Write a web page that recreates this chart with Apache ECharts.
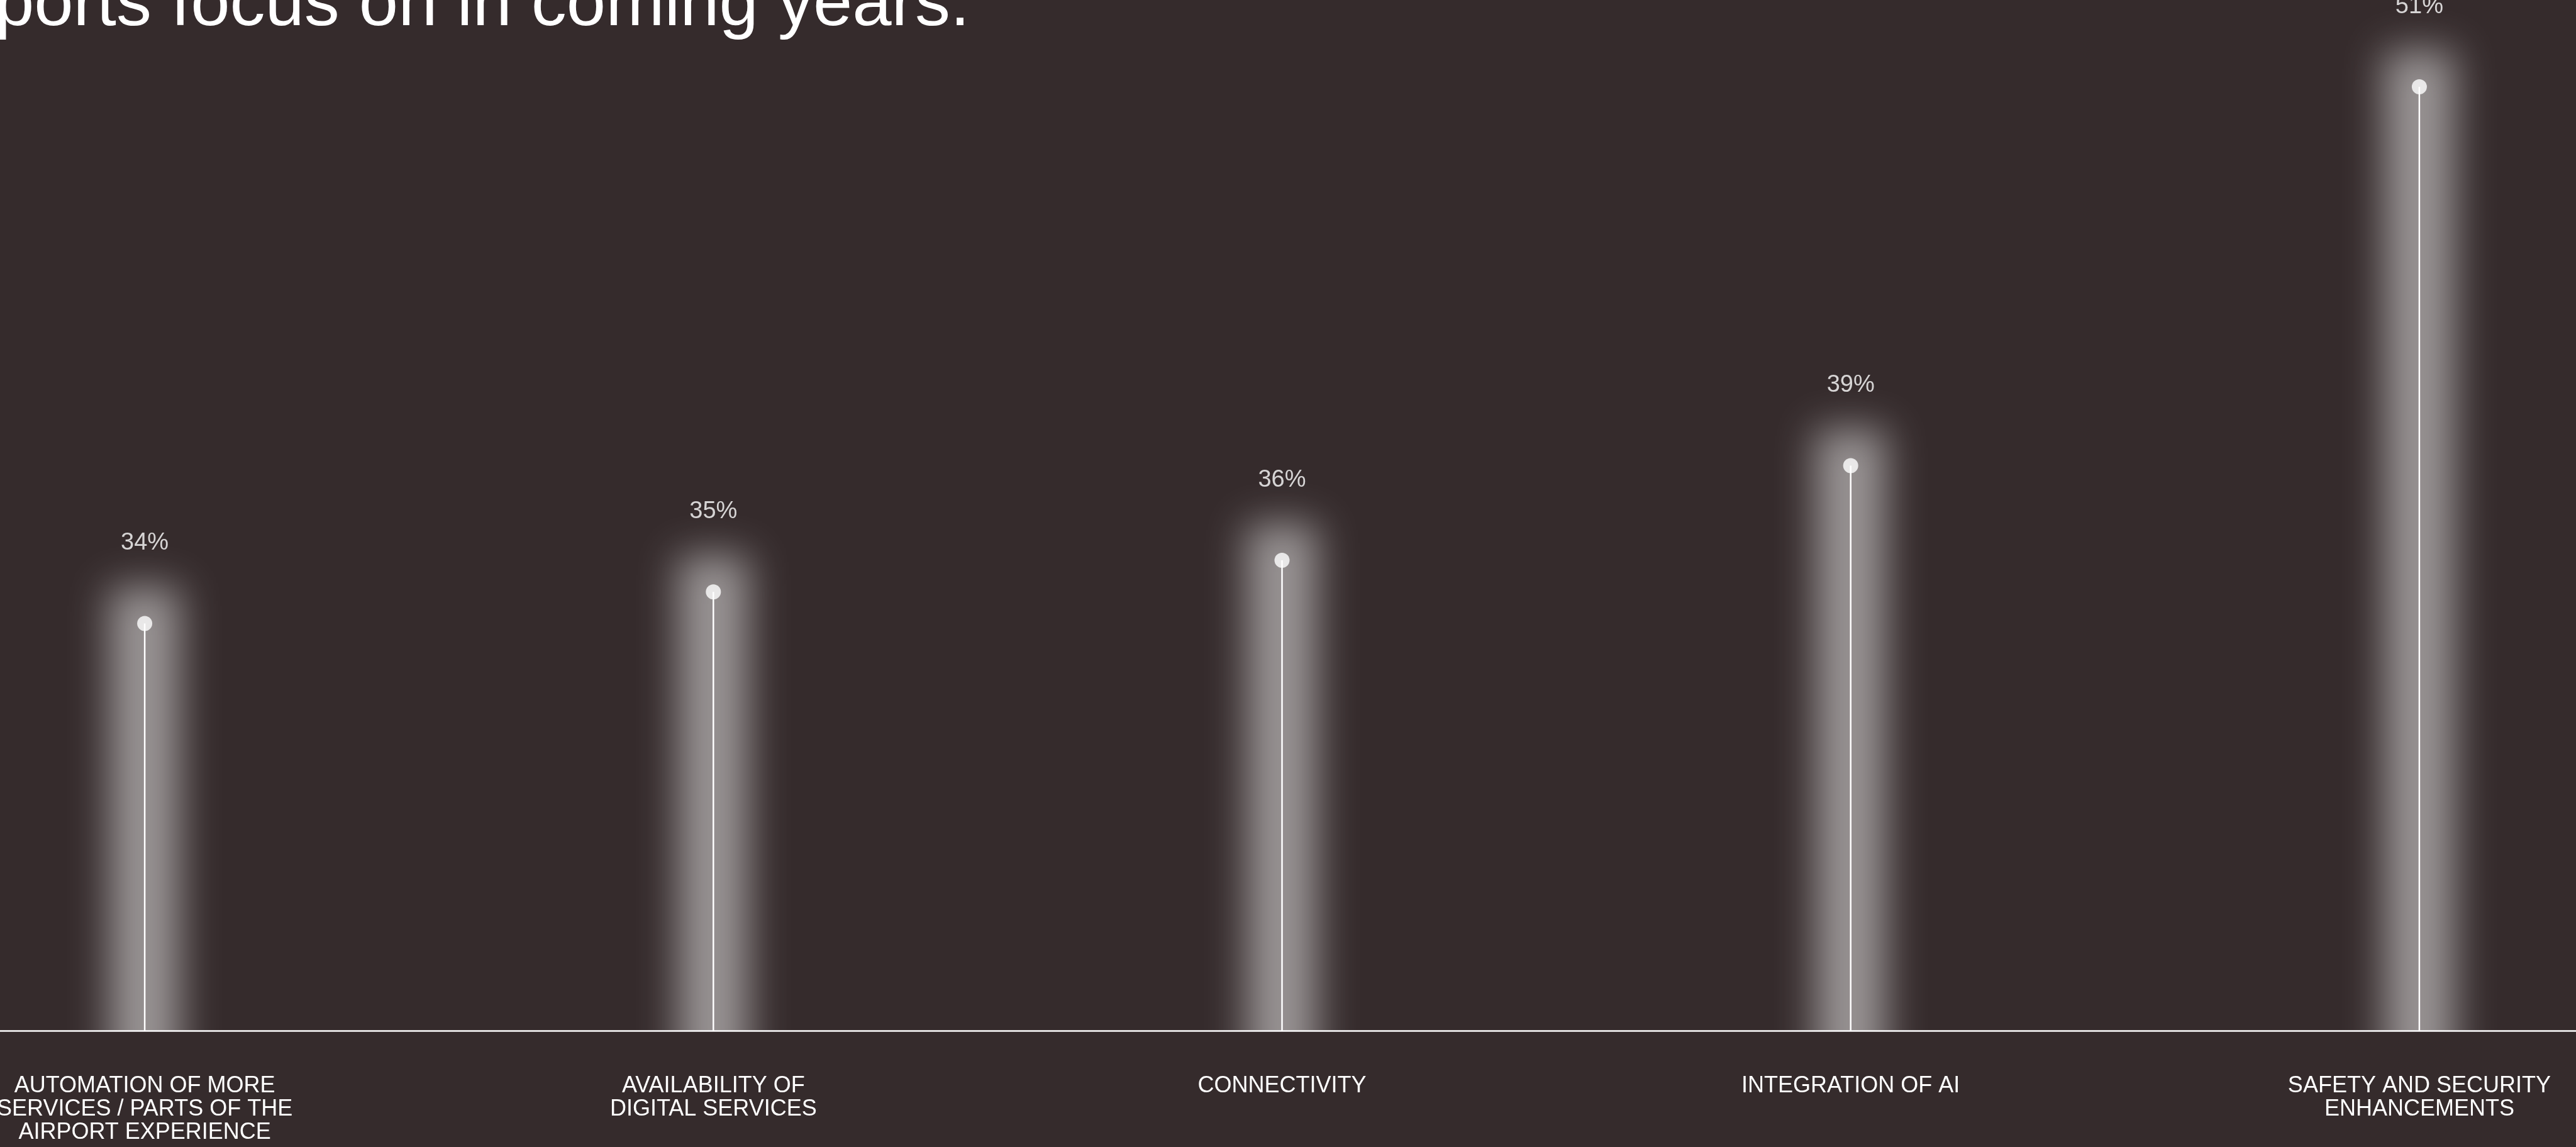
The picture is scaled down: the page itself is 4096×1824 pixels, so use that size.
<!DOCTYPE html>
<html>
<head>
<meta charset="utf-8">
<script src="https://cdn.jsdelivr.net/npm/echarts@6/dist/echarts.min.js"></script>
<style>
    html, body { margin: 0; padding: 0; background: #352b2c; }
    #chart { width: 4096px; height: 1824px; }
</style>
</head>
<body>
<div id="chart"></div>
<script>
const categories = [
    'AUTOMATION OF MORE\nSERVICES / PARTS OF THE\nAIRPORT EXPERIENCE',
    'AVAILABILITY OF\nDIGITAL SERVICES',
    'CONNECTIVITY',
    'INTEGRATION OF AI',
    'SAFETY AND SECURITY\nENHANCEMENTS'
];
const shares = [34, 35, 36, 39, 51];

const font = 'Liberation Sans';
const glowWidth = 112;
const glowTop = 58;
const shift = 6000; // shape drawn off screen, only its blurred shadow lands on the stem

let myChart = echarts.init(document.getElementById('chart'));

let option = {
    backgroundColor: '#352b2c',
    animation: false,
    textStyle: { fontFamily: font },
    grid: {
        left: -222,
        right: -203,
        top: 0,
        bottom: 185,
        outerBoundsMode: 'none'
    },
    graphic: [{
        type: 'text',
        x: 1542,
        y: 9,
        silent: true,
        style: {
            text: 'airports focus on in coming years.',
            fill: '#fff',
            font: '112px "Liberation Sans"',
            textAlign: 'right',
            verticalAlign: 'middle'
        }
    }],
    xAxis: {
        type: 'category',
        boundaryGap: true,
        data: categories,
        axisLine: {
            lineStyle: { color: '#fff', width: 2.7 }
        },
        axisTick: { show: false },
        axisLabel: {
            interval: 0,
            color: '#fff',
            fontSize: 36,
            lineHeight: 37,
            margin: 70,
            align: 'center'
        },
        splitLine: { show: false }
    },
    yAxis: {
        type: 'value',
        min: 21.1,
        max: 53.75,
        show: false,
        splitLine: { show: false }
    },
    series: [
        {
            // soft glow behind every stem
            type: 'custom',
            clip: true,
            z: 1,
            silent: true,
            data: shares.map((v, i) => [i, v]),
            encode: { x: 0, y: 1 },
            renderItem: function (params, api) {
                let pt = api.coord([api.value(0), api.value(1)]);
                let bottom = params.coordSys.y + params.coordSys.height;
                return {
                    type: 'rect',
                    shape: {
                        x: pt[0] - glowWidth / 2 - shift,
                        y: pt[1] - glowTop,
                        width: glowWidth,
                        height: bottom - pt[1] + glowTop + 200
                    },
                    style: {
                        fill: '#fff',
                        shadowColor: 'rgba(255,255,255,0.5)',
                        shadowBlur: 64,
                        shadowOffsetX: shift,
                        shadowOffsetY: 0
                    }
                };
            }
        },
        {
            type: 'bar',
            z: 3,
            barWidth: 2.5,
            silent: true,
            itemStyle: { color: '#fff' },
            data: shares
        },
        {
            type: 'scatter',
            z: 4,
            symbol: 'circle',
            symbolSize: 24,
            silent: true,
            itemStyle: { color: '#fff' },
            label: {
                show: true,
                position: 'top',
                distance: 97,
                color: '#fff',
                fontSize: 38,
                formatter: '{c}%'
            },
            data: shares
        }
    ]
};

myChart.setOption(option);
</script>
</body>
</html>
